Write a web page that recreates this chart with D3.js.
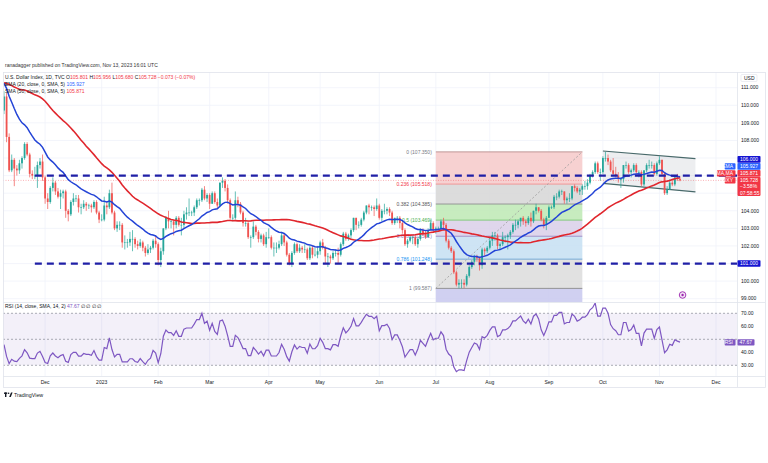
<!DOCTYPE html>
<html><head><meta charset="utf-8">
<script src="https://cdn.jsdelivr.net/npm/d3@7"></script>
<style>html,body{margin:0;background:#fff}svg{display:block;font-family:"Liberation Sans",Arial,sans-serif}</style>
</head><body><svg id="c" width="768" height="463"></svg>
<script>
// ---------------- DATA ----------------
const firstDate = "2022-11-09";
const lastAxisDate = "2023-12-29";
// closes before the visible window (indicator warm-up only)
const priorCloses = [106.5,106.5,106.7,107.5,108.1, 108.9,108.6,108.6,108.4,108.8, 108.8,108.8,108.7,109.7,109.5,
 110.0,110.2,109.6,109.7,109.0, 108.3,109.8,109.6,109.7,109.8, 109.5,110.2,111.2,111.4,113.2, 114.1,114.2,112.6,112.2,112.1,
 111.8,110.2,111.1,112.2,112.8, 113.2,113.2,113.3,112.4,113.3, 112.0,112.1,112.9,112.8,111.9, 112.0,110.9,109.7,110.6,110.7,
 111.5,111.4,112.0,112.9,110.8, 110.2,109.7];

const opens = [
 109.7,110.5,108.2,106.3,106.9,106.4,106.3,106.7,107.0,107.8,107.2,106.1,106.0,106.0,106.6,106.8,
 105.9,104.7,104.5,105.3,105.6,105.1,104.8,105.0,105.1,104.0,103.8,104.5,104.7,104.7,104.2,104.2,104.4,104.3,104.3,104.2,104.5,103.9,
 103.5,103.5,104.3,104.2,105.0,103.9,103.0,103.2,103.2,102.2,102.2,102.2,102.4,102.4,102.1,102.0,102.2,101.9,101.6,101.8,101.9,102.3,
 102.1,101.2,101.7,103.0,103.6,103.4,103.4,103.2,103.6,103.2,103.2,103.8,103.9,103.9,103.9,104.2,104.6,104.6,105.2,104.7,
 104.9,104.4,105.0,104.5,104.3,105.6,105.7,105.3,104.6,103.6,103.6,104.6,104.4,103.9,103.3,103.3,102.5,102.5,103.1,102.8,102.4,102.6,102.1,
 102.5,102.5,101.9,101.9,101.9,102.1,102.6,102.2,101.5,101.0,101.6,102.1,101.7,101.9,101.8,101.8,101.3,101.9,101.5,101.5,
 101.7,102.2,101.9,101.4,101.4,101.3,101.6,101.6,101.5,102.1,102.7,102.4,102.6,102.9,103.6,103.2,103.2,103.5,103.9,104.3,104.2,104.2,104.1,
 104.3,103.6,104.0,104.0,104.1,103.9,103.3,103.6,103.6,103.3,102.9,102.1,102.3,102.5,102.5,102.1,102.4,102.9,102.7,102.5,102.9,103.3,
 102.9,103.0,103.0,103.4,103.2,102.3,101.9,101.7,100.5,99.8,99.9,99.9,99.8,100.3,100.8,101.1,101.4,101.3,100.9,101.8,101.7,
 101.9,102.3,102.6,102.6,102.0,102.1,102.5,102.5,102.6,102.8,103.2,103.2,103.4,103.6,103.4,103.3,103.6,103.4,104.0,104.2,104.0,103.5,103.2,
 103.6,104.2,104.2,104.8,104.8,105.1,105.1,104.6,104.7,104.7,105.4,105.3,105.1,105.2,105.4,105.4,105.6,106.0,106.2,106.7,106.2,
 106.2,107.0,107.0,106.8,106.3,106.1,106.0,105.8,105.8,106.6,106.6,106.2,106.3,106.6,106.2,106.2,105.5,106.3,106.6,106.6,106.6,106.1,
 106.7,106.9,106.1,105.0,105.2,105.6,105.5,105.9,105.801];
const highs = [
 110.8,110.7,108.4,107.2,107.0,106.6,106.9,107.1,107.9,107.9,107.3,106.3,106.5,106.8,107.0,107.2,
 106.0,105.0,105.4,105.9,105.7,105.3,105.2,105.2,105.2,104.1,104.6,105.0,104.9,104.9,104.4,104.6,104.5,104.4,104.4,104.6,104.6,104.0,
 103.8,104.8,104.5,105.2,105.6,104.0,103.4,103.4,103.3,102.6,102.4,102.8,102.9,102.5,102.3,102.4,102.3,102.0,102.1,102.0,102.4,102.6,
 102.2,101.9,103.0,103.7,104.0,103.5,103.5,103.7,103.7,103.6,104.0,104.2,104.7,104.0,104.3,104.7,104.7,105.3,105.4,105.0,
 105.0,105.1,105.1,104.7,105.6,105.9,105.8,105.5,104.7,103.8,105.1,104.8,104.5,104.0,103.6,103.4,102.6,103.4,103.2,102.9,102.7,102.7,102.8,
 103.0,102.6,102.2,102.2,102.3,102.8,102.7,102.3,101.6,101.7,102.2,102.2,102.1,102.0,102.1,101.9,102.0,102.0,101.9,102.0,
 102.3,102.4,102.0,101.6,101.5,101.7,101.8,101.9,102.2,102.8,102.8,102.7,103.0,103.6,103.6,103.4,103.6,104.0,104.3,104.4,104.3,104.3,104.7,
 104.4,104.1,104.4,104.2,104.2,104.0,103.6,103.7,103.7,103.4,103.0,102.4,102.6,102.6,102.6,102.5,103.0,103.0,102.9,103.0,103.5,103.4,
 103.1,103.1,103.5,103.6,103.3,102.4,102.0,101.8,100.6,100.1,100.1,100.1,100.4,100.9,101.2,101.5,101.5,101.4,101.9,101.9,102.0,
 102.5,102.8,102.8,102.7,102.2,102.8,102.6,102.7,102.9,103.3,103.5,103.5,103.6,103.7,103.5,103.7,103.9,104.0,104.4,104.2,104.1,103.6,103.7,
 104.3,104.3,104.9,105.0,105.2,105.2,105.1,104.8,105.0,105.4,105.5,105.4,105.3,105.5,105.7,105.8,106.1,106.3,106.8,106.8,106.4,
 107.1,107.35,107.2,106.9,107.0,106.5,106.2,105.9,106.6,106.8,106.7,106.4,106.7,106.7,106.3,106.3,106.3,106.7,106.9,106.8,106.7,106.8,
 107.1,106.9,106.2,105.4,105.8,105.8,106.0,106.1,105.956];
const lows = [
 109.5,107.9,106.2,106.2,105.4,106.0,106.1,106.4,106.9,107.1,105.9,105.8,105.8,105.3,106.4,105.7,
 104.4,104.1,104.4,105.1,104.9,104.7,104.1,104.7,103.6,103.4,103.7,104.3,104.5,103.9,103.8,104.1,104.0,104.1,103.9,104.1,103.8,103.3,
 103.4,103.4,103.8,104.1,103.8,102.9,102.8,102.9,101.9,101.8,101.9,102.0,101.7,101.9,101.8,101.9,101.7,101.4,101.5,101.6,101.8,101.9,
 100.9,100.8,101.5,102.9,103.0,103.0,102.6,103.0,103.1,102.6,103.0,103.5,103.7,103.7,103.7,104.1,104.3,104.5,104.6,104.5,
 104.1,104.4,104.4,104.1,104.2,105.3,105.1,104.4,103.5,103.4,103.5,104.2,103.8,103.1,103.1,102.4,101.9,102.4,102.6,102.2,102.2,102.0,101.9,
 102.4,101.8,101.4,101.6,101.8,102.0,102.0,101.4,100.9,100.8,101.5,101.6,101.6,101.6,101.6,101.2,101.2,101.3,101.4,101.3,
 101.5,101.8,101.0,100.8,101.0,101.2,101.4,101.0,101.4,102.0,102.3,102.3,102.4,102.8,102.9,103.0,103.1,103.4,103.8,103.8,104.0,103.7,104.0,
 103.5,103.4,103.8,103.8,103.7,103.2,103.2,103.3,103.0,102.7,102.0,101.9,102.2,102.1,102.0,101.9,102.3,102.6,102.4,102.5,102.9,102.8,
 102.7,102.9,102.9,102.9,102.2,101.8,101.6,100.4,99.7,99.59,99.6,99.6,99.7,100.2,100.7,100.9,101.1,100.6,100.7,101.4,101.6,
 101.8,102.0,102.3,101.8,101.8,102.0,102.2,101.8,102.4,102.7,102.9,103.0,103.1,103.2,103.1,103.2,103.1,103.3,103.8,103.9,103.4,103.0,102.9,
 103.6,104.1,104.1,104.6,104.7,104.9,104.4,104.4,104.5,104.6,105.1,105.0,104.9,104.9,105.2,105.2,105.5,105.9,106.1,106.1,105.7,
 106.1,106.8,106.6,106.2,106.0,105.9,105.6,105.3,105.6,106.4,106.1,105.9,106.2,106.1,105.9,105.4,105.4,106.2,106.4,106.4,106.0,106.0,
 106.6,106.0,104.9,104.9,105.2,105.4,105.4,105.7,105.68];
const closes = [
 110.5,108.2,106.3,106.9,106.4,106.3,106.7,107.0,107.8,107.2,106.1,106.0,106.0,106.6,106.8,105.9,
 104.7,104.5,105.3,105.6,105.1,104.8,105.0,105.1,104.0,103.8,104.5,104.7,104.7,104.2,104.2,104.4,104.3,104.3,104.2,104.5,103.9,103.5,
 103.5,104.3,104.2,105.0,103.9,103.0,103.2,103.2,102.2,102.2,102.2,102.4,102.4,102.1,102.0,102.2,101.9,101.6,101.8,101.9,102.3,102.1,
 101.2,101.7,103.0,103.6,103.4,103.4,103.2,103.6,103.2,103.2,103.8,103.9,103.9,103.9,104.2,104.6,104.6,105.2,104.7,104.9,
 104.4,105.0,104.5,104.3,105.6,105.7,105.3,104.6,103.6,103.6,104.6,104.4,103.9,103.3,103.3,102.5,102.5,103.1,102.8,102.4,102.6,102.1,102.5,
 102.5,101.9,101.9,101.9,102.1,102.6,102.2,101.5,101.0,101.6,102.1,101.7,101.9,101.8,101.8,101.3,101.9,101.5,101.5,101.7,
 102.2,101.9,101.4,101.4,101.3,101.6,101.6,101.5,102.1,102.7,102.4,102.6,102.9,103.6,103.2,103.2,103.5,103.9,104.3,104.2,104.2,104.1,104.3,
 103.6,104.0,104.0,104.1,103.9,103.3,103.6,103.6,103.3,102.9,102.1,102.3,102.5,102.5,102.1,102.4,102.9,102.7,102.5,102.9,103.3,102.9,
 103.0,103.0,103.4,103.2,102.3,101.9,101.7,100.5,99.8,99.9,99.9,99.8,100.3,100.8,101.1,101.4,101.3,100.9,101.8,101.7,101.9,
 102.3,102.6,102.6,102.0,102.1,102.5,102.5,102.6,102.8,103.2,103.2,103.4,103.6,103.4,103.3,103.6,103.4,104.0,104.2,104.0,103.5,103.2,103.6,
 104.2,104.2,104.8,104.8,105.1,105.1,104.6,104.7,104.7,105.4,105.3,105.1,105.2,105.4,105.4,105.6,106.0,106.2,106.7,106.2,106.2,
 107.0,107.0,106.8,106.3,106.1,106.0,105.8,105.8,106.6,106.6,106.2,106.3,106.6,106.2,106.2,105.5,106.3,106.6,106.6,106.6,106.1,106.7,
 106.9,106.1,105.0,105.2,105.6,105.5,105.9,105.801,105.728];

const priceTicks = [99,100,101,102,103,104,105,106,107,108,109,110,111];
const rsiTicks = [30,40,50,60,70];
const rsiGuides = [70,50,30];
const tickDates = ["2022-12-01","2023-01-02","2023-02-01","2023-03-01","2023-04-03","2023-05-01","2023-06-01","2023-07-03","2023-08-01","2023-09-01","2023-10-02","2023-11-01","2023-12-01"];
const tickLabels = ["Dec","2023","Feb","Mar","Apr","May","Jun","Jul","Aug","Sep","Oct","Nov","Dec"];

const fibLevels = [0,0.236,0.382,0.5,0.618,0.786,1,1.618];
const fibHigh = 107.350, fibLow = 99.587;
const fibStartDate = "2023-07-03", fibEndDate = "2023-09-20";
const hLevels = [106.0, 101.0];
const hLineStartDate = "2022-11-25";
const channelDates = ["2023-10-02","2023-11-21"];
const channelTop = [107.40, 106.97];
const channelBottom = [105.56, 105.08];
const eventDate = "2023-11-14";

const headerTitle = "U.S. Dollar Index, 1D, TVC";
const ohlcLabels = ["O","H","L","C"];
const ohlcValues = ["105.801","105.956","105.680","105.728"];
const changeText = "\u22120.073 (\u22120.07%)";
const emaTitle = "EMA (20, close, 0, SMA, 5)", emaValue = "105.927";
const smaTitle = "SMA (50, close, 0, SMA, 5)", smaValue = "105.871";
const rsiTitle = "RSI (14, close, SMA, 14, 2)", rsiValue = 47.67;
const lastPrice = 105.728;
const publishText = "ranadagger published on TradingView.com, Nov 13, 2023 16:01 UTC";

// ---------------- STYLE / LAYOUT ----------------
const L = 3, PR = 737, R = 765, mainTop = 72, mainBot = 302, rsiTop = 303, rsiBot = 376, axBot = 387;
const UP = "#26a69a", DN = "#ef5350", EMA_C = "#2343d6", SMA_C = "#e0262d", RSI_C = "#7e57c2";
const fibStyle = [
  {line:"#b88f8f", fill:"#f6c9c9", text:"#787b86"},
  {line:"#f08f8f", fill:"#d6d6d6", text:"#f23645"},
  {line:"#8c8c8c", fill:"#bde9b4", text:"#555"},
  {line:"#7cc576", fill:"#d9cfe9", text:"#4caf50"},
  {line:"#9b88c4", fill:"#c5dff2", text:"#8e7cc3"},
  {line:"#6aa5d4", fill:"#dcdcdc", text:"#2196f3"},
  {line:"#8a8a8a", fill:"#c8c8ef", text:"#787b86"},
  {line:"#9a9ae0", fill:"none", text:"#787b86"}
];
const FS = 5;

// ---------------- SCALES ----------------
const fmt = d3.timeFormat("%Y-%m-%d");
const days = d3.timeDay.range(d3.timeParse("%Y-%m-%d")(firstDate), d3.timeDay.offset(d3.timeParse("%Y-%m-%d")(lastAxisDate),1))
  .filter(d => d.getDay() !== 0 && d.getDay() !== 6).map(fmt);
const idx = s => days.indexOf(s);
const x = d3.scaleLinear().domain([0, closes.length - 1]).range([4, 680]);
const y = d3.scaleLinear().domain([99, 111]).range([298.7, 87.7]);
const yR = d3.scaleLinear().domain([30, 70]).range([365.3, 313.3]);

// ---------------- INDICATORS ----------------
const all = priorCloses.concat(closes), off = priorCloses.length;
function ema(a, n){ const k = 2/(n+1); const out = []; let e = d3.mean(a.slice(0,n));
  for (let i=0;i<a.length;i++){ if(i<n-1){out.push(null);continue;} if(i===n-1){out.push(e);continue;} e = a[i]*k + e*(1-k); out.push(e);} return out; }
function sma(a, n){ return a.map((v,i)=> i<n-1 ? null : d3.mean(a.slice(i-n+1,i+1))); }
function rsi(a, n){ const out = a.map(()=>null); let g=0,l=0;
  for(let i=1;i<=n;i++){const d=a[i]-a[i-1]; if(d>0) g+=d; else l-=d;} g/=n; l/=n; out[n]=100-100/(1+g/l);
  for(let i=n+1;i<a.length;i++){const d=a[i]-a[i-1]; g=(g*(n-1)+Math.max(d,0))/n; l=(l*(n-1)+Math.max(-d,0))/n; out[i]= l===0?100:100-100/(1+g/l);} return out; }
const emaV = ema(all,20).slice(off), smaV = sma(all,50).slice(off), rsiV = rsi(all,14).slice(off);

// ---------------- DRAW ----------------
const svg = d3.select("#c");
const defs = svg.append("defs");
defs.append("clipPath").attr("id","cm").append("rect").attr("x",L).attr("y",mainTop).attr("width",PR-L).attr("height",mainBot-mainTop);
defs.append("clipPath").attr("id","cr").append("rect").attr("x",L).attr("y",rsiTop).attr("width",PR-L).attr("height",rsiBot-rsiTop);

svg.append("text").attr("x",5).attr("y",65.7).attr("dy","0.35em").attr("font-size",FS).attr("fill","#333").text(publishText);

// grid
const grid = svg.append("g");
grid.selectAll("line.h").data(priceTicks).join("line").attr("x1",L).attr("x2",PR).attr("y1",d=>y(d)).attr("y2",d=>y(d)).attr("stroke","#f0f3fa").attr("stroke-width",0.8);
grid.selectAll("line.v").data(tickDates).join("line").attr("x1",d=>x(idx(d))).attr("x2",d=>x(idx(d))).attr("y1",mainTop).attr("y2",rsiBot).attr("stroke","#f0f3fa").attr("stroke-width",0.8);

const main = svg.append("g").attr("clip-path","url(#cm)");
// fib
const fx0 = x(idx(fibStartDate)), fx1 = x(idx(fibEndDate));
const fibPrice = l => fibHigh - l*(fibHigh - fibLow);
const fg = main.append("g");
fg.selectAll("rect").data(fibLevels.slice(0,-1)).join("rect")
  .attr("x",fx0).attr("width",fx1-fx0)
  .attr("y",(d)=>y(fibPrice(d)))
  .attr("height",(d,i)=>y(fibPrice(fibLevels[i+1]))-y(fibPrice(d)))
  .attr("fill",(d,i)=>fibStyle[i].fill).attr("opacity",0.85);
fg.selectAll("line").data(fibLevels).join("line").attr("x1",fx0).attr("x2",fx1)
  .attr("y1",d=>y(fibPrice(d))).attr("y2",d=>y(fibPrice(d))).attr("stroke",(d,i)=>fibStyle[i].line).attr("stroke-width",0.9);
fg.append("line").attr("x1",fx0).attr("y1",y(fibLow)).attr("x2",fx1).attr("y2",y(fibHigh)).attr("stroke","#9a9a9a").attr("stroke-width",0.8).attr("stroke-dasharray","2,2");
fg.selectAll("text").data(fibLevels.slice(0,-1)).join("text").attr("x",fx0-4).attr("y",d=>y(fibPrice(d))).attr("dy","0.35em")
  .attr("text-anchor","end").attr("font-size",FS).attr("fill",(d,i)=>fibStyle[i].text)
  .text(d=>`${d} (${d3.format(".3f")(fibPrice(d))})`);

// channel
const cx = channelDates.map(d=>x(idx(d)));
main.append("path").attr("d",`M${cx[0]},${y(channelTop[0])}L${cx[1]},${y(channelTop[1])}L${cx[1]},${y(channelBottom[1])}L${cx[0]},${y(channelBottom[0])}Z`)
  .attr("fill","rgba(140,150,160,0.16)");
[channelTop, channelBottom].forEach(c => main.append("line").attr("x1",cx[0]).attr("y1",y(c[0])).attr("x2",cx[1]).attr("y2",y(c[1])).attr("stroke","#48696a").attr("stroke-width",1.2));

// current price dotted line
main.append("line").attr("x1",L).attr("x2",PR).attr("y1",y(lastPrice)).attr("y2",y(lastPrice)).attr("stroke","#f23645").attr("stroke-opacity",0.55).attr("stroke-width",0.7).attr("stroke-dasharray","1,1.5");

// candles
const cg = main.append("g");
closes.forEach((c,i)=>{
  const o = opens[i], col = c >= o ? UP : DN, xx = x(i);
  cg.append("line").attr("x1",xx).attr("x2",xx).attr("y1",y(highs[i])).attr("y2",y(lows[i])).attr("stroke",col).attr("stroke-width",0.7);
  const top = y(Math.max(o,c)), bot = y(Math.min(o,c));
  cg.append("rect").attr("x",xx-0.9).attr("width",1.8).attr("y",top).attr("height",Math.max(0.6,bot-top)).attr("fill",col);
});

// MAs
const ln = d3.line().defined(d=>d!=null).x((d,i)=>x(i)).y(d=>y(d)).curve(d3.curveLinear);
main.append("path").datum(smaV).attr("d",ln).attr("fill","none").attr("stroke",SMA_C).attr("stroke-width",1.6);
main.append("path").datum(emaV).attr("d",ln).attr("fill","none").attr("stroke",EMA_C).attr("stroke-width",1.5);

// horizontal levels
main.selectAll("line.hl").data(hLevels).join("line").attr("x1",x(idx(hLineStartDate))).attr("x2",PR)
  .attr("y1",d=>y(d)).attr("y2",d=>y(d)).attr("stroke","#1f1fa6").attr("stroke-width",2.2).attr("stroke-dasharray","7,5");

// event icon
main.append("circle").attr("cx",x(idx(eventDate))).attr("cy",mainBot-7).attr("r",3.3).attr("fill","#f3e5f5").attr("stroke","#9c27b0").attr("stroke-width",0.9);
main.append("circle").attr("cx",x(idx(eventDate))).attr("cy",mainBot-7).attr("r",1.2).attr("fill","#9c27b0");

// legend
const lg = svg.append("g").attr("font-size",FS);
const t1 = lg.append("text").attr("x",5).attr("y",77.7).attr("dy","0.35em");
t1.append("tspan").attr("fill","#131722").text(headerTitle + "  ");
ohlcLabels.forEach((k,i)=>{ t1.append("tspan").attr("fill","#131722").text(k); t1.append("tspan").attr("fill","#f23645").text(ohlcValues[i]+" "); });
t1.append("tspan").attr("fill","#f23645").text(" " + changeText);
const t2 = lg.append("text").attr("x",5).attr("y",84.3).attr("dy","0.35em");
t2.append("tspan").attr("fill","#131722").text(emaTitle + " "); t2.append("tspan").attr("fill","#2962ff").text(emaValue);
const t3 = lg.append("text").attr("x",5).attr("y",90.8).attr("dy","0.35em");
t3.append("tspan").attr("fill","#131722").text(smaTitle + " "); t3.append("tspan").attr("fill","#f23645").text(smaValue);

// RSI pane
const rg = svg.append("g").attr("clip-path","url(#cr)");
rg.append("rect").attr("x",L).attr("width",PR-L).attr("y",yR(70)).attr("height",yR(30)-yR(70)).attr("fill","rgba(126,87,194,0.09)");
rg.selectAll("line.g").data(rsiGuides).join("line").attr("x1",L).attr("x2",PR).attr("y1",d=>yR(d)).attr("y2",d=>yR(d))
  .attr("stroke","#8a8d96").attr("stroke-width",0.7).attr("stroke-dasharray","2,2");
const rl = d3.line().defined(d=>d!=null).x((d,i)=>x(i)).y(d=>yR(d));
rg.append("path").datum(rsiV).attr("d",rl).attr("fill","none").attr("stroke",RSI_C).attr("stroke-width",1.2);
const t4 = svg.append("text").attr("x",5).attr("y",306.7).attr("dy","0.35em").attr("font-size",FS);
t4.append("tspan").attr("fill","#131722").text(rsiTitle + " ");
t4.append("tspan").attr("fill",RSI_C).text(d3.format(".2f")(rsiValue) + " ");
t4.append("tspan").attr("fill","#131722").text("\u2205 \u2205 \u2205 \u2205");

// frame
const fr = svg.append("g").attr("fill","none").attr("stroke","#e0e3eb").attr("stroke-width",0.8);
fr.append("rect").attr("x",L+0.5).attr("y",mainTop+0.5).attr("width",R-L).attr("height",axBot-mainTop);
fr.append("line").attr("x1",L).attr("x2",R).attr("y1",mainBot+0.5).attr("y2",mainBot+0.5);
fr.append("line").attr("x1",L).attr("x2",R).attr("y1",rsiBot+0.5).attr("y2",rsiBot+0.5);
fr.append("line").attr("x1",PR+0.5).attr("x2",PR+0.5).attr("y1",mainTop).attr("y2",axBot);

// tag geometry (labels on the price scale hide the axis ticks beneath them)
const yl = y(lastPrice), yr = yR(rsiValue);
const tagSpans = [[yl-21-3.3, yl-3.3+6.6*2.85], [y(hLevels[1])-3.3, y(hLevels[1])+3.3]];
const rsiSpan = [yr-3.2, yr+3.2];
const free = (v, spans) => spans.every(s => v < s[0]-2.6 || v > s[1]+2.6);

// price axis labels
const ax = svg.append("g").attr("font-size",FS).attr("fill","#131722");
ax.selectAll("text.p").data(priceTicks.filter(t=>free(y(t), tagSpans))).join("text").attr("x",741).attr("y",d=>y(d)).attr("dy","0.35em").text(d=>d3.format(".3f")(d));
ax.selectAll("text.r").data(rsiTicks.filter(t=>free(yR(t), [rsiSpan]))).join("text").attr("x",741).attr("y",d=>yR(d)).attr("dy","0.35em").text(d=>d3.format(".2f")(d));
svg.append("rect").attr("x",741).attr("y",74.5).attr("width",16).attr("height",7).attr("fill","#fff").attr("stroke","#e0e3eb").attr("stroke-width",0.6).attr("rx",1);
svg.append("text").attr("x",744).attr("y",78).attr("dy","0.35em").attr("font-size",FS).attr("fill","#131722").text("USD");

// time axis
svg.append("g").attr("font-size",FS).attr("fill","#131722").selectAll("text").data(tickDates).join("text")
  .attr("x",d=>x(idx(d))).attr("y",382.3).attr("dy","0.35em").attr("text-anchor","middle").text((d,i)=>tickLabels[i]);

// right tags
function tag(yc, txt, bg, lines){
  const h = 6.6*(lines||1);
  svg.append("rect").attr("x",737.5).attr("y",yc-3.3).attr("width",23).attr("height",h).attr("fill",bg).attr("rx",0.8);
  (Array.isArray(txt)?txt:[txt]).forEach((t,k)=> svg.append("text").attr("x",740).attr("y",yc+k*6.2).attr("dy","0.35em").attr("font-size",FS).attr("fill","#fff").text(t));
}
function ltag(yc, txt, bg){
  const w = txt.length*2.6+3;
  svg.append("rect").attr("x",735.5-w).attr("y",yc-3.2).attr("width",w).attr("height",6.4).attr("fill",bg).attr("rx",0.8);
  svg.append("text").attr("x",733).attr("y",yc).attr("dy","0.35em").attr("text-anchor","end").attr("font-size",FS).attr("fill","#fff").text(txt);
}
tag(yl, [d3.format(".3f")(lastPrice), "\u22123.58%", "07:58:55"], "#f23645", 2.85); ltag(yl, "DXY", "#f23645");
tag(yl-7, smaValue, "#f23645"); ltag(yl-7, "SMA,MA", "#f23645");
tag(yl-14, emaValue, "#2962ff"); ltag(yl-14, "EMA", "#2962ff");
tag(yl-21, d3.format(".3f")(hLevels[0]), "#1414d2");
tag(y(hLevels[1]), d3.format(".3f")(hLevels[1]), "#1414d2");
// RSI tag
svg.append("rect").attr("x",737.5).attr("y",yr-3.2).attr("width",17).attr("height",6.4).attr("fill",RSI_C).attr("rx",0.8);
svg.append("text").attr("x",739.5).attr("y",yr).attr("dy","0.35em").attr("font-size",FS).attr("fill","#fff").text(d3.format(".2f")(rsiValue));
ltag(yr, "RSI", RSI_C);

// TradingView logo
const logo = svg.append("g").attr("fill","#131722");
logo.append("rect").attr("x",4).attr("y",392.5).attr("width",3.2).attr("height",1.4);
logo.append("rect").attr("x",5).attr("y",392.5).attr("width",1.4).attr("height",4.5);
logo.append("circle").attr("cx",8.6).attr("cy",393.3).attr("r",0.8);
logo.append("path").attr("d","M9.2,397 L11,392.5 L12.6,392.5 L10.8,397 Z");
svg.append("text").attr("x",14).attr("y",394.8).attr("dy","0.35em").attr("font-size",FS+0.3).attr("fill","#131722").text("TradingView");
</script></body></html>
